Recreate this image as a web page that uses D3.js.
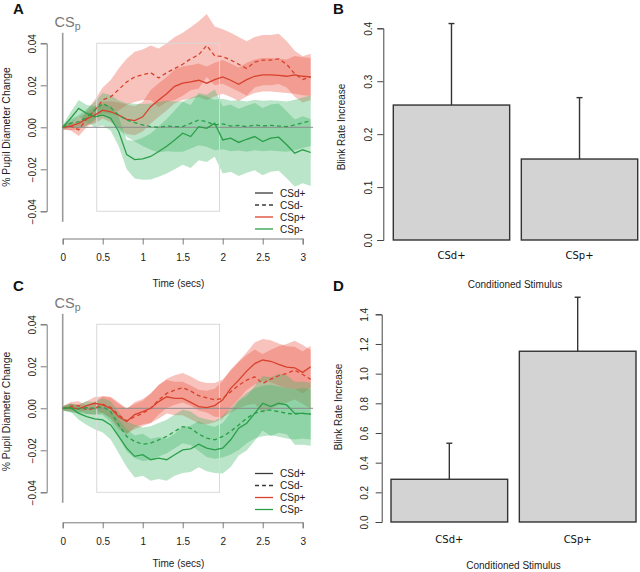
<!DOCTYPE html>
<html>
<head>
<meta charset="utf-8">
<script src="https://cdn.jsdelivr.net/npm/d3@7/dist/d3.min.js"></script>
<style>
  body { margin: 0; background: #fff; }
  svg { display: block; font-family: "Liberation Sans", Arial, sans-serif; }
</style>
</head>
<body>
<svg id="chart" width="640" height="572"></svg>
<script>
// time base shared by every pupil trace (seconds)
const timeSecs = [0, 0.1, 0.2, 0.3, 0.4, 0.5, 0.6, 0.7, 0.8, 0.9, 1.0, 1.1, 1.2, 1.3, 1.4, 1.5,
  1.6, 1.7, 1.8, 1.9, 2.0, 2.1, 2.2, 2.3, 2.4, 2.5, 2.6, 2.7, 2.8, 2.9, 3.0, 3.1];

const legendLabels = ["CSd+", "CSd-", "CSp+", "CSp-"];
const timeTicks = [0, 0.5, 1, 1.5, 2, 2.5, 3];
const pupilTicks = [-0.04, -0.02, 0, 0.02, 0.04];
const windowStart = 0.425, windowEnd = 1.96;

// panel A traces
const aRedSolid = [0, 0.0006, 0.0019, 0.004, 0.0058, 0.0082, 0.0074, 0.0058, 0.0038, 0.0032, 0.005, 0.0098, 0.013, 0.016,
  0.0195, 0.021, 0.0216, 0.0224, 0.021, 0.0227, 0.024, 0.0224, 0.0205, 0.0227, 0.0243, 0.025, 0.025, 0.0247, 0.0243, 0.025, 0.0243, 0.024];
const aRedSolidSe = [0.001, 0.002, 0.003, 0.003, 0.004, 0.004, 0.005, 0.006, 0.007, 0.007, 0.007, 0.008, 0.008, 0.008,
  0.008, 0.008, 0.008, 0.008, 0.008, 0.008, 0.008, 0.008, 0.008, 0.008, 0.008, 0.008, 0.008, 0.008, 0.008, 0.009, 0.009, 0.009];
const aRedDash = [0, 0.0005, -0.0012, 0.004, 0.008, 0.013, 0.0145, 0.018, 0.0216, 0.024, 0.025, 0.026, 0.0235, 0.026,
  0.028, 0.030, 0.0326, 0.0345, 0.039, 0.034, 0.0337, 0.032, 0.030, 0.028, 0.031, 0.032, 0.032, 0.0326, 0.030, 0.0255, 0.0228, 0.024];
const aRedDashSe = [0.001, 0.002, 0.003, 0.004, 0.005, 0.006, 0.008, 0.010, 0.011, 0.012, 0.012, 0.013, 0.014, 0.014,
  0.015, 0.015, 0.015, 0.016, 0.015, 0.014, 0.013, 0.013, 0.013, 0.013, 0.012, 0.012, 0.012, 0.012, 0.011, 0.011, 0.011, 0.011];
const aGreenSolid = [0, 0.0043, 0.009, 0.0066, 0.005, 0.0058, 0.0043, -0.002, -0.013, -0.0154, -0.015, -0.0139, -0.0115, -0.009,
  -0.006, -0.0028, -0.0044, 0.0003, -0.0005, 0.002, -0.006, -0.0052, -0.0072, -0.0057, -0.0044, -0.0068, -0.0052, -0.0047, -0.0083, -0.0123, -0.0107, -0.012];
const aGreenSolidSe = [0.001, 0.003, 0.004, 0.004, 0.005, 0.005, 0.006, 0.007, 0.007, 0.009, 0.010, 0.011, 0.012, 0.013,
  0.014, 0.015, 0.015, 0.016, 0.016, 0.016, 0.016, 0.016, 0.016, 0.016, 0.016, 0.016, 0.016, 0.016, 0.016, 0.016, 0.016, 0.016];
const aGreenDash = [0, 0.0019, 0.0027, 0.0047, 0.0082, 0.0113, 0.0094, 0.0058, 0.0035, 0.0022, 0.0011, 0.0003, 0, 0.0006,
  0.0003, 0.0003, 0.0019, 0.0035, 0.0027, 0.0011, 0.0016, 0.0006, 0.0009, 0.0003, 0.0011, 0.0006, 0.0009, 0.0006, 0.0003, 0.0011, 0.0022, 0.0031];
const aGreenDashSe = [0.001, 0.002, 0.003, 0.004, 0.004, 0.005, 0.006, 0.007, 0.008, 0.009, 0.010, 0.011, 0.012, 0.012,
  0.012, 0.012, 0.012, 0.012, 0.012, 0.012, 0.012, 0.012, 0.012, 0.012, 0.012, 0.012, 0.012, 0.012, 0.012, 0.012, 0.012, 0.012];

// panel C traces
const cRedSolid = [0, 0.0003, -0.0003, 0.0013, 0.0024, 0.0016, 0, -0.004, -0.0063, -0.003, -0.0016, 0, 0.0032, 0.0055,
  0.0047, 0.0047, 0.0028, 0.0008, 0.0003, 0.0013, 0.004, 0.0095, 0.0134, 0.0177, 0.0213, 0.023, 0.0224, 0.0209, 0.0196, 0.0193, 0.0171, 0.0198];
const cRedSolidSe = [0.001, 0.002, 0.002, 0.002, 0.003, 0.004, 0.005, 0.006, 0.006, 0.006, 0.006, 0.007, 0.008, 0.008,
  0.008, 0.008, 0.008, 0.008, 0.008, 0.008, 0.009, 0.009, 0.009, 0.009, 0.010, 0.010, 0.010, 0.010, 0.010, 0.010, 0.010, 0.010];
const cRedDash = [0, 0.001, 0.0013, -0.0008, 0, 0.0019, 0.0005, -0.0032, -0.006, -0.004, -0.0024, 0, 0.004, 0.0071,
  0.0087, 0.0098, 0.0082, 0.006, 0.005, 0.004, 0.0047, 0.0079, 0.011, 0.0134, 0.015, 0.0118, 0.0139, 0.0155, 0.0166, 0.0182, 0.0161, 0.0138];
const cRedDashSe = [0.001, 0.002, 0.002, 0.002, 0.003, 0.004, 0.005, 0.006, 0.006, 0.006, 0.006, 0.007, 0.007, 0.007,
  0.007, 0.007, 0.007, 0.007, 0.007, 0.008, 0.009, 0.010, 0.011, 0.012, 0.013, 0.014, 0.014, 0.014, 0.014, 0.014, 0.014, 0.014];
const cGreenSolid = [0, 0.0003, -0.0024, -0.004, -0.005, -0.0055, -0.0079, -0.0134, -0.019, -0.0229, -0.0221, -0.0245, -0.0237, -0.0245,
  -0.0221, -0.0198, -0.0193, -0.0171, -0.019, -0.0198, -0.019, -0.015, -0.0095, -0.0071, -0.0024, 0.0024, 0.0008, 0.0024, 0.0016, -0.0024, -0.0024, -0.0028];
const cGreenSolidSe = [0.001, 0.002, 0.003, 0.004, 0.005, 0.006, 0.007, 0.008, 0.009, 0.010, 0.010, 0.010, 0.010, 0.010,
  0.010, 0.011, 0.011, 0.011, 0.011, 0.011, 0.012, 0.013, 0.013, 0.013, 0.013, 0.013, 0.014, 0.014, 0.014, 0.015, 0.015, 0.015];
const cGreenDash = [0, 0, -0.0003, 0.0003, 0, 0.0008, -0.0016, -0.0079, -0.0134, -0.0158, -0.0171, -0.0166, -0.015, -0.0134,
  -0.011, -0.0087, -0.0095, -0.0123, -0.0142, -0.015, -0.0134, -0.011, -0.0079, -0.0047, -0.0024, -0.0013, -0.0008, -0.0016, -0.0024, -0.0028, -0.0024, -0.0028];
const cGreenDashSe = [0.001, 0.002, 0.002, 0.003, 0.003, 0.004, 0.005, 0.006, 0.007, 0.008, 0.008, 0.008, 0.008, 0.008,
  0.008, 0.008, 0.008, 0.008, 0.009, 0.009, 0.010, 0.011, 0.012, 0.012, 0.012, 0.012, 0.012, 0.012, 0.012, 0.012, 0.012, 0.012];

// blink bar panels
const barCategories = ["CSd+", "CSp+"];
const blinkB = [0.255, 0.153];
const blinkBErr = [0.154, 0.116];
const blinkTicksB = [0, 0.1, 0.2, 0.3, 0.4];
const blinkD = [0.288, 1.151];
const blinkDErr = [0.243, 0.364];
const blinkTicksD = [0, 0.2, 0.4, 0.6, 0.8, 1.0, 1.2, 1.4];

const RED_LINE = "#d8412c", GREEN_LINE = "#2a9f48";
const RED_FILL = "#eb5443", GREEN_FILL = "#3cb464";
const BAND_OPACITY = 0.35;

const svg = d3.select("#chart");

function panelLetter(letter, x, y){
  svg.append("text").attr("x", x).attr("y", y)
    .attr("font-size", 15).attr("font-weight", "bold").attr("fill", "#111")
    .text(letter);
}

function drawPupil(cfg){
  const g = svg.append("g");
  const x = d3.scaleLinear().domain([0, 3]).range([62.7, 302.7]);
  const y = d3.scaleLinear().domain([-0.04, 0.04]).range([cfg.bottom, cfg.top]);

  const rows = (vals, se) => timeSecs.map((t, i) => ({t, v: vals[i], se: se[i]}));
  const area = d3.area().x(d => x(d.t)).y0(d => y(d.v - d.se)).y1(d => y(d.v + d.se));
  const line = d3.line().x(d => x(d.t)).y(d => y(d.v));

  const bands = [
    {vals: cfg.redDash, se: cfg.redDashSe, fill: RED_FILL},
    {vals: cfg.redSolid, se: cfg.redSolidSe, fill: RED_FILL},
    {vals: cfg.greenSolid, se: cfg.greenSolidSe, fill: GREEN_FILL},
    {vals: cfg.greenDash, se: cfg.greenDashSe, fill: GREEN_FILL}
  ];
  g.selectAll("path.band").data(bands).enter().append("path")
    .attr("class", "band")
    .attr("d", b => area(rows(b.vals, b.se)))
    .attr("fill", b => b.fill)
    .attr("fill-opacity", BAND_OPACITY);

  // analysis window and reference lines
  g.append("rect")
    .attr("x", x(windowStart)).attr("y", y(0.04))
    .attr("width", x(windowEnd) - x(windowStart)).attr("height", y(-0.04) - y(0.04))
    .attr("fill", "none").attr("stroke", "#d9d9d9").attr("stroke-width", 1);
  g.append("line")
    .attr("x1", x(0)).attr("x2", x(3.13)).attr("y1", y(0)).attr("y2", y(0))
    .attr("stroke", "#8c8c8c").attr("stroke-width", 1);
  g.append("line")
    .attr("x1", x(0)).attr("x2", x(0)).attr("y1", y(0.045)).attr("y2", y(-0.045))
    .attr("stroke", "#9a9a9a").attr("stroke-width", 1.6);

  const traces = [
    {vals: cfg.redSolid, color: RED_LINE, dash: null},
    {vals: cfg.redDash, color: RED_LINE, dash: "4,3"},
    {vals: cfg.greenDash, color: GREEN_LINE, dash: "4,3"},
    {vals: cfg.greenSolid, color: GREEN_LINE, dash: null}
  ];
  g.selectAll("path.trace").data(traces).enter().append("path")
    .attr("class", "trace")
    .attr("d", tr => line(timeSecs.map((t, i) => ({t, v: tr.vals[i]}))))
    .attr("fill", "none")
    .attr("stroke", tr => tr.color)
    .attr("stroke-width", 1.3)
    .attr("stroke-dasharray", tr => tr.dash);

  // CS_p marker
  const cs = g.append("text").attr("x", 54.5).attr("y", cfg.top - 16.5)
    .attr("font-size", 14.5).attr("fill", "#777");
  cs.append("tspan").text("CS");
  cs.append("tspan").attr("font-size", 10.5).attr("dy", 3.5).text("p");

  // axes
  const yAxis = g.append("g").attr("transform", "translate(46.7,0)")
    .call(d3.axisLeft(y).tickValues(pupilTicks).tickFormat(d3.format(".2f")).tickSizeOuter(0).tickSize(6).tickPadding(0));
  yAxis.selectAll("text")
    .attr("transform", "rotate(-90)").attr("x", 0).attr("y", -10.5).attr("dy", 0)
    .attr("text-anchor", "middle");
  const xAxis = g.append("g").attr("transform", `translate(0,${cfg.axisY})`)
    .call(d3.axisBottom(x).tickValues(timeTicks).tickFormat(d3.format("")).tickSizeOuter(0).tickSize(6).tickPadding(0));
  xAxis.selectAll("text").attr("y", cfg.tickBase - cfg.axisY).attr("dy", 0);
  [yAxis, xAxis].forEach(ax => {
    ax.selectAll("path, line").attr("stroke", "#7a7a7a");
    ax.selectAll("text").attr("font-size", 10).attr("fill", "#222")
      .attr("font-family", "'Liberation Sans', Arial, sans-serif");
  });

  g.append("text").attr("x", 178.5).attr("y", cfg.xTitleY)
    .attr("text-anchor", "middle").attr("font-size", 10).attr("fill", "#222")
    .text("Time (secs)");
  g.append("text")
    .attr("transform", `translate(10,${cfg.yTitleC}) rotate(-90)`)
    .attr("text-anchor", "middle").attr("font-size", 10.4).attr("fill", "#222")
    .text("% Pupil Diameter Change");

  // legend
  const legendStyle = [
    {color: "#3a3a3a", dash: null}, {color: "#3a3a3a", dash: "4,3"},
    {color: RED_LINE, dash: null}, {color: GREEN_LINE, dash: null}
  ];
  const lg = g.append("g");
  legendLabels.forEach((lab, i) => {
    const yy = cfg.legendY + i * 12;
    lg.append("line").attr("x1", 255).attr("x2", 273).attr("y1", yy).attr("y2", yy)
      .attr("stroke", legendStyle[i].color).attr("stroke-width", 1.3)
      .attr("stroke-dasharray", legendStyle[i].dash);
    lg.append("text").attr("x", 280).attr("y", yy + 3.6)
      .attr("font-size", 10).attr("fill", "#222").text(lab);
  });
}

function drawBlink(cfg){
  const g = svg.append("g");
  const x = d3.scaleBand().domain(barCategories)
    .range([cfg.barLeft, cfg.barRight]).paddingInner(0.091).paddingOuter(0);
  const y = d3.scaleLinear().domain([0, cfg.ticks[cfg.ticks.length - 1]]).range([cfg.zeroY, cfg.topY]);
  const rows = barCategories.map((c, i) => ({c, v: cfg.values[i], e: cfg.errors[i]}));

  g.selectAll("rect.bar").data(rows).enter().append("rect")
    .attr("class", "bar")
    .attr("x", d => x(d.c)).attr("width", x.bandwidth())
    .attr("y", d => y(d.v)).attr("height", d => y(0) - y(d.v))
    .attr("fill", "#d3d3d3").attr("stroke", "#333").attr("stroke-width", 1.4);

  const cx = d => x(d.c) + x.bandwidth() / 2;
  g.selectAll("line.err").data(rows).enter().append("line")
    .attr("x1", cx).attr("x2", cx)
    .attr("y1", d => y(d.v)).attr("y2", d => y(d.v + d.e))
    .attr("stroke", "#333").attr("stroke-width", 1.4);
  g.selectAll("line.cap").data(rows).enter().append("line")
    .attr("x1", d => cx(d) - 3).attr("x2", d => cx(d) + 3)
    .attr("y1", d => y(d.v + d.e)).attr("y2", d => y(d.v + d.e))
    .attr("stroke", "#333").attr("stroke-width", 1.4);

  const yAxis = g.append("g").attr("transform", `translate(${cfg.axisX},0)`)
    .call(d3.axisLeft(y).tickValues(cfg.ticks).tickFormat(d3.format(".1f")).tickSizeOuter(0).tickSize(6).tickPadding(0));
  yAxis.selectAll("path, line").attr("stroke", "#444");
  yAxis.selectAll("text")
    .attr("transform", "rotate(-90)").attr("x", 0).attr("y", -cfg.tickOff).attr("dy", 0)
    .attr("text-anchor", "middle").attr("font-size", 10).attr("fill", "#222")
    .attr("font-family", "'Liberation Sans', Arial, sans-serif");

  g.selectAll("text.cat").data(rows).enter().append("text")
    .attr("class", "cat")
    .attr("x", cx).attr("y", cfg.catY)
    .attr("text-anchor", "middle").attr("font-size", 10).attr("fill", "#111")
    .attr("font-family", "'DejaVu Sans', sans-serif")
    .text(d => d.c);

  g.append("text").attr("x", cfg.xTitleX).attr("y", cfg.xTitleY)
    .attr("text-anchor", "middle").attr("font-size", 10).attr("fill", "#222")
    .text("Conditioned Stimulus");
  g.append("text")
    .attr("transform", `translate(${cfg.yTitleX},${cfg.yTitleC}) rotate(-90)`)
    .attr("text-anchor", "middle").attr("font-size", 10).attr("fill", "#222")
    .text("Blink Rate Increase");
}

svg.append("rect").attr("width", 640).attr("height", 572).attr("fill", "#fff");

drawPupil({
  top: 43.3, bottom: 211.3, axisY: 238.5, tickBase: 260.5, xTitleY: 287, yTitleC: 127,
  legendY: 193,
  redSolid: aRedSolid, redSolidSe: aRedSolidSe, redDash: aRedDash, redDashSe: aRedDashSe,
  greenSolid: aGreenSolid, greenSolidSe: aGreenSolidSe, greenDash: aGreenDash, greenDashSe: aGreenDashSe
});
drawPupil({
  top: 324.3, bottom: 492.3, axisY: 522.3, tickBase: 545.5, xTitleY: 567, yTitleC: 411.5,
  legendY: 473.5,
  redSolid: cRedSolid, redSolidSe: cRedSolidSe, redDash: cRedDash, redDashSe: cRedDashSe,
  greenSolid: cGreenSolid, greenSolidSe: cGreenSolidSe, greenDash: cGreenDash, greenDashSe: cGreenDashSe
});
drawBlink({
  values: blinkB, errors: blinkBErr, ticks: blinkTicksB,
  barLeft: 393.3, barRight: 637.7, zeroY: 240, topY: 28.3, axisX: 383.3, tickOff: 11.5,
  catY: 259, xTitleX: 515, xTitleY: 288, yTitleX: 345, yTitleC: 127
});
drawBlink({
  values: blinkD, errors: blinkDErr, ticks: blinkTicksD,
  barLeft: 391, barRight: 636, zeroY: 522, topY: 314.3, axisX: 381.7, tickOff: 13.5,
  catY: 543, xTitleX: 513.5, xTitleY: 569, yTitleX: 342, yTitleC: 407
});

panelLetter("A", 13, 14);
panelLetter("B", 333, 14);
panelLetter("C", 13, 291);
panelLetter("D", 333, 291);
</script>
</body>
</html>
